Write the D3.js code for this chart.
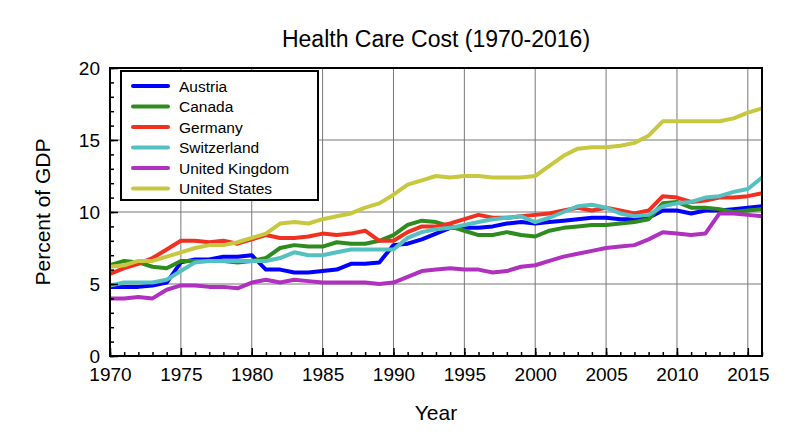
<!DOCTYPE html>
<html lang="en">
<head>
<meta charset="UTF-8">
<title>Health Care Cost</title>
<style>
  body { margin: 0; background: #fff; font-family: "Liberation Sans", Arial, sans-serif; }
</style>
</head>
<body>
<svg id="chart" width="800" height="445"></svg>
<script src="https://d3js.org/d3.v7.min.js"></script>
<script>
const years = d3.range(1970, 2017);
const countries = ["Austria", "Canada", "Germany", "Switzerland", "United Kingdom", "United States"];
const colors = ["#0000ff", "#2e8b1e", "#f03020", "#55c0c0", "#b030c0", "#c8c840"];
const austria = [4.8,4.8,4.8,4.9,5.1,6.5,6.7,6.7,6.9,6.9,7.0,6.0,6.0,5.8,5.8,5.9,6.0,6.4,6.4,6.5,7.7,7.8,8.1,8.5,8.9,8.9,8.9,9.0,9.2,9.3,9.2,9.3,9.4,9.5,9.6,9.6,9.5,9.5,9.6,10.1,10.1,9.9,10.1,10.1,10.2,10.3,10.4];
const canada = [6.3,6.6,6.5,6.2,6.1,6.6,6.6,6.6,6.6,6.5,6.6,6.8,7.5,7.7,7.6,7.6,7.9,7.8,7.8,8.0,8.4,9.1,9.4,9.3,9.0,8.7,8.4,8.4,8.6,8.4,8.3,8.7,8.9,9.0,9.1,9.1,9.2,9.3,9.5,10.6,10.7,10.3,10.3,10.2,10.0,10.1,10.2];
const germany = [5.7,6.1,6.4,6.8,7.4,8.0,8.0,7.9,8.0,7.8,8.1,8.4,8.2,8.2,8.3,8.5,8.4,8.5,8.7,8.0,8.0,8.6,9.0,9.0,9.2,9.5,9.8,9.6,9.6,9.7,9.8,9.9,10.1,10.3,10.1,10.3,10.1,9.9,10.1,11.1,11.0,10.7,10.8,11.0,11.0,11.1,11.3];
const switzerland = [4.9,5.1,5.1,5.1,5.3,5.9,6.5,6.6,6.6,6.6,6.6,6.6,6.8,7.2,7.0,7.0,7.2,7.4,7.4,7.4,7.4,8.2,8.6,8.8,8.9,9.1,9.3,9.5,9.6,9.7,9.3,9.6,10.0,10.4,10.5,10.3,9.9,9.7,9.8,10.4,10.6,10.7,11.0,11.1,11.4,11.6,12.4];
const uk = [4.0,4.0,4.1,4.0,4.6,4.9,4.9,4.8,4.8,4.7,5.1,5.3,5.1,5.3,5.2,5.1,5.1,5.1,5.1,5.0,5.1,5.5,5.9,6.0,6.1,6.0,6.0,5.8,5.9,6.2,6.3,6.6,6.9,7.1,7.3,7.5,7.6,7.7,8.1,8.6,8.5,8.4,8.5,9.9,9.9,9.8,9.7];
const us = [6.2,6.3,6.6,6.6,6.9,7.2,7.5,7.7,7.7,7.9,8.2,8.5,9.2,9.3,9.2,9.5,9.7,9.9,10.3,10.6,11.2,11.9,12.2,12.5,12.4,12.5,12.5,12.4,12.4,12.4,12.5,13.2,13.9,14.4,14.5,14.5,14.6,14.8,15.3,16.3,16.3,16.3,16.3,16.3,16.5,16.9,17.2];
const series = [austria, canada, germany, switzerland, uk, us];
const xTicks = [1970, 1975, 1980, 1985, 1990, 1995, 2000, 2005, 2010, 2015];
const yTicks = [0, 5, 10, 15, 20];

const svg = d3.select("#chart");
const mLeft = 110, mRight = 762, mTop = 68, mBottom = 356;
const x = d3.scaleLinear().domain([1970, 2016]).range([mLeft, mRight]);
const y = d3.scaleLinear().domain([0, 20]).range([mBottom, mTop]);
const font = "Liberation Sans, Arial, sans-serif";

// grid
const grid = svg.append("g").attr("stroke", "#777").attr("stroke-width", 1);
xTicks.slice(1).forEach(t => grid.append("line").attr("x1", x(t)).attr("x2", x(t)).attr("y1", mTop).attr("y2", mBottom));
yTicks.slice(1, -1).forEach(t => grid.append("line").attr("x1", mLeft).attr("x2", mRight).attr("y1", y(t)).attr("y2", y(t)));

// lines
const line = d3.line().x((d, i) => x(years[i])).y(d => y(d));
series.forEach((s, i) => {
  svg.append("path").datum(s).attr("d", line)
    .attr("fill", "none").attr("stroke", colors[i]).attr("stroke-width", 4)
    .attr("stroke-linejoin", "round");
});

// frame
svg.append("rect").attr("x", mLeft).attr("y", mTop).attr("width", mRight - mLeft).attr("height", mBottom - mTop)
  .attr("fill", "none").attr("stroke", "#000").attr("stroke-width", 2);

// axes
svg.append("g").attr("transform", `translate(0,${mBottom})`)
  .call(d3.axisBottom(x).tickValues(xTicks).tickFormat(d3.format("d")).tickSize(-8).tickPadding(12));
svg.append("g").attr("transform", `translate(0,${mBottom})`)
  .call(d3.axisBottom(x).tickValues(years).tickFormat("").tickSize(-4));
svg.append("g").attr("transform", `translate(${mLeft},0)`)
  .call(d3.axisLeft(y).tickValues(yTicks).tickSize(-8).tickPadding(10));
svg.append("g").attr("transform", `translate(${mLeft},0)`)
  .call(d3.axisLeft(y).tickValues(d3.range(0, 21)).tickFormat("").tickSize(-4));
svg.selectAll(".domain").remove();
svg.selectAll(".tick line").attr("stroke", "#000").attr("stroke-width", 1.5);
svg.selectAll(".tick text").attr("font-size", 19).attr("font-family", font).attr("fill", "#000");

// titles
svg.append("text").attr("x", (mLeft + mRight) / 2).attr("y", 47).attr("text-anchor", "middle")
  .attr("font-size", 23).attr("font-family", font).text("Health Care Cost (1970-2016)");
svg.append("text").attr("x", (mLeft + mRight) / 2).attr("y", 420).attr("text-anchor", "middle")
  .attr("font-size", 21).attr("font-family", font).text("Year");
svg.append("text").attr("transform", `translate(50,${(mTop + mBottom) / 2}) rotate(-90)`).attr("text-anchor", "middle")
  .attr("font-size", 21).attr("font-family", font).text("Percent of GDP");

// legend
const lg = svg.append("g");
lg.append("rect").attr("x", 121).attr("y", 71).attr("width", 197).attr("height", 129)
  .attr("fill", "#fff").attr("stroke", "#000").attr("stroke-width", 2);
countries.forEach((c, i) => {
  const yy = 86 + i * 20.5;
  lg.append("line").attr("x1", 133).attr("x2", 168).attr("y1", yy).attr("y2", yy)
    .attr("stroke", colors[i]).attr("stroke-width", 4).attr("stroke-linecap", "round");
  lg.append("text").attr("x", 179).attr("y", yy + 5.5).attr("font-size", 15.5).attr("font-family", font).text(c);
});
</script>
</body>
</html>
